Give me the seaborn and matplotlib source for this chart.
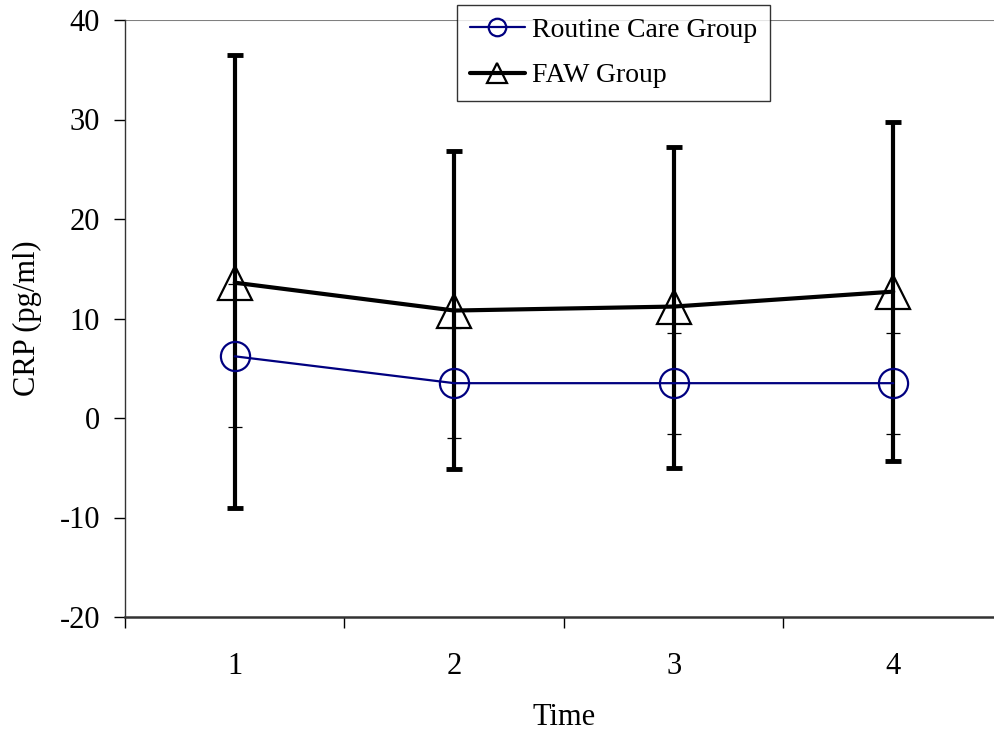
import numpy as np
import pandas as pd
import seaborn as sns
import matplotlib.pyplot as plt

# ---------------------------------------------------------
# DATA
# ---------------------------------------------------------
time_points = [1, 2, 3, 4]

routine_mean = [6.2, 3.5, 3.5, 3.5]
routine_upper = [13.5, 9.0, 8.5, 8.5]
routine_lower = [-0.9, -2.0, -1.6, -1.6]

faw_mean = [13.6, 10.8, 11.2, 12.7]
faw_upper = [36.5, 26.8, 27.2, 29.7]
faw_lower = [-9.0, -5.1, -5.0, -4.3]

y_ticks = [-20, -10, 0, 10, 20, 30, 40]

df = pd.DataFrame({
    "Time": time_points * 2,
    "CRP": routine_mean + faw_mean,
    "Group": ["Routine Care Group"] * 4 + ["FAW Group"] * 4,
})

# ---------------------------------------------------------
# FIGURE SETUP
# ---------------------------------------------------------
sns.set_style("white")
plt.rcParams["font.family"] = ["Liberation Serif", "DejaVu Serif"]
plt.rcParams["text.color"] = "black"
plt.rcParams["axes.labelcolor"] = "black"
plt.rcParams["xtick.color"] = "black"
plt.rcParams["ytick.color"] = "black"

fig = plt.figure(figsize=(9.94, 7.38), dpi=100)
ax = fig.add_axes([125 / 994, 121 / 738, 878 / 994, 597 / 738])

# error bars first so markers sit on top
r_mean = np.array(routine_mean)
ax.errorbar(time_points, r_mean,
            yerr=[r_mean - np.array(routine_lower), np.array(routine_upper) - r_mean],
            fmt="none", ecolor="black", elinewidth=0.9, capsize=5, capthick=0.9, zorder=2)

f_mean = np.array(faw_mean)
ax.errorbar(time_points, f_mean,
            yerr=[f_mean - np.array(faw_lower), np.array(faw_upper) - f_mean],
            fmt="none", ecolor="black", elinewidth=3, capsize=6, capthick=3.5, zorder=3)

sns.lineplot(data=df[df["Group"] == "Routine Care Group"], x="Time", y="CRP",
             ax=ax, color="#000080", linewidth=1.6, marker="o", markersize=21,
             markerfacecolor="none", markeredgecolor="#000080", markeredgewidth=1.6,
             label="Routine Care Group", zorder=4)
sns.lineplot(data=df[df["Group"] == "FAW Group"], x="Time", y="CRP",
             ax=ax, color="black", linewidth=3, marker="^", markersize=24,
             markerfacecolor="none", markeredgecolor="black", markeredgewidth=1.6,
             label="FAW Group", zorder=5)

# ---------------------------------------------------------
# AXES STYLE
# ---------------------------------------------------------
ax.set_xlim(0.5, 4.5)
ax.set_ylim(-20, 40)
ax.set_yticks(y_ticks)
ax.set_yticklabels([str(t) for t in y_ticks], fontsize=22)
ax.tick_params(axis="y", direction="out", length=8, width=1, pad=10, left=True)

ax.set_xticks([0.5, 1.5, 2.5, 3.5, 4.5])
ax.set_xticklabels([])
ax.set_xticks(time_points, minor=True)
ax.set_xticklabels([str(t) for t in time_points], minor=True, fontsize=22)
ax.tick_params(axis="x", which="major", direction="out", length=8, width=1, bottom=True)
ax.tick_params(axis="x", which="minor", length=0, pad=25)

ax.axhline(40, color="#808080", linewidth=1.5, zorder=1)

for side in ["top", "right"]:
    ax.spines[side].set_visible(False)
ax.spines["left"].set_color("#333333")
ax.spines["left"].set_linewidth(1)
ax.spines["bottom"].set_color("#333333")
ax.spines["bottom"].set_linewidth(1.8)

ax.set_xlabel("Time", fontsize=22)
ax.set_ylabel("CRP (pg/ml)", fontsize=22)
ax.xaxis.set_label_coords(0.5, -0.144)
ax.yaxis.set_label_coords(-0.095, 0.5)

leg = ax.legend(loc="upper left", bbox_to_anchor=(457 / 994, 1 - 5 / 738),
                bbox_transform=fig.transFigure, fontsize=20, frameon=True,
                fancybox=False, edgecolor="black", handlelength=2.0,
                handletextpad=0.25, borderpad=0.45, labelspacing=0.72,
                borderaxespad=0, markerscale=0.6)
leg.get_frame().set_linewidth(1)

fig.savefig("out.png", dpi=100)
